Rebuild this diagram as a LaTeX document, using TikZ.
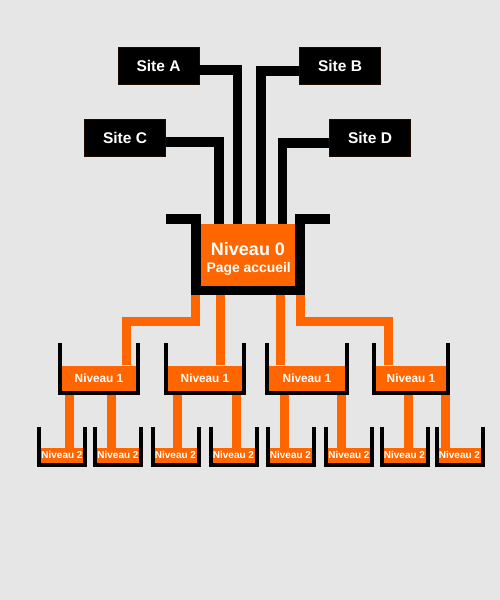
\documentclass[tikz,border=0pt]{standalone}
\usepackage{fontspec}
\setmainfont{Liberation Sans}
\usetikzlibrary{calc}
\definecolor{bg}{HTML}{E6E6E6}
\definecolor{orng}{HTML}{FF6600}
\definecolor{siteedge}{RGB}{30,12,0}
\newcommand{\bucketpath}[5]{\draw[line width=#5] (#1,#2) -- (#1,#3) -- (#4,#3) -- (#4,#2);}
\begin{document}
\begin{tikzpicture}[x=1pt,y=-1pt,
  site/.style={fill=black, draw=siteedge, line width=0.8pt, minimum width=81pt, minimum height=37pt, inner sep=0pt, text=white, font=\fontsize{15.5}{18}\selectfont\bfseries},
  lvl/.style={fill=orng, inner sep=0pt, text=white},
  lvlone/.style={lvl, minimum height=25.5pt, font=\fontsize{11.8}{14}\selectfont\bfseries},
  lvltwo/.style={lvl, minimum width=42pt, minimum height=14.7pt, font=\fontsize{10}{11}\selectfont\bfseries},
  blk/.style={line width=9.6pt, draw=black},
  org/.style={line width=9pt, draw=orng},
  lbl/.style={anchor=base, text=white, inner sep=0pt}
]
\useasboundingbox (0,0) rectangle (500,600);
\fill[bg] (0,0) rectangle (500,600);

% sites
\node[site] (sa) at (158.5,65.5) {Site A};
\node[site] (sb) at (340,65.5) {Site B};
\node[site] (sc) at (125,138) {Site C};
\node[site] (sd) at (370,138) {Site D};

% level 0
\node[lvl, minimum width=94.3pt, minimum height=61.7pt] (n0) at (247.9,254.9) {};
\node[lbl, font=\fontsize{18}{20}\selectfont\bfseries] (n0t) at (248,255) {Niveau 0};
\node[lbl, font=\fontsize{13.9}{16}\selectfont\bfseries] (n0p) at (248.7,272.3) {Page accueil};

% level 1
\node[lvlone, minimum width=74pt] (n1a) at (99,378.3) {Niveau 1};
\node[lvlone, minimum width=74pt] (n1b) at (205,378.3) {Niveau 1};
\node[lvlone, minimum width=76pt] (n1c) at (307,378.3) {Niveau 1};
\node[lvlone, minimum width=70pt] (n1d) at (411,378.3) {Niveau 1};

% level 2
\node[lvltwo] (n2a) at (62,455.35) {Niveau 2};
\node[lvltwo] (n2b) at (118,455.35) {Niveau 2};
\node[lvltwo] (n2c) at (175.5,455.35) {Niveau 2};
\node[lvltwo] (n2d) at (233.5,455.35) {Niveau 2};
\node[lvltwo] (n2e) at (290.5,455.35) {Niveau 2};
\node[lvltwo] (n2f) at (349,455.35) {Niveau 2};
\node[lvltwo] (n2g) at (404.5,455.35) {Niveau 2};
\node[lvltwo] (n2h) at (459.5,455.35) {Niveau 2};

% black connectors sites -> level 0
\draw[blk] ([yshift=-4.2pt]sa.east) -| (237.3,0 |- n0.north);
\draw[blk] ([yshift=-5.2pt]sb.west) -| (260.7,0 |- n0.north);
\draw[blk] ([yshift=-4.2pt]sc.east) -| (219,0 |- n0.north);
\draw[blk] ([yshift=-5pt]sd.west) -| (282.3,0 |- n0.north);

% orange connectors level 0 -> level 1
\draw[org] (195.5,0 |- n0.south) -- (195.5,321.2) -| (126.7,0 |- n1a.north);
\draw[org] (220.5,0 |- n0.south) -- (220.5,0 |- n1b.north);
\draw[org] (280.5,0 |- n0.south) -- (280.5,0 |- n1c.north);
\draw[org] (300.5,0 |- n0.south) -- (300.5,321.2) -| (388.7,0 |- n1d.north);

% orange connectors level 1 -> level 2
\draw[org] (69.5,0 |- n1a.south) -- (69.5,0 |- n2a.north);
\draw[org] (111.5,0 |- n1a.south) -- (111.5,0 |- n2b.north);
\draw[org] (177.5,0 |- n1b.south) -- (177.5,0 |- n2c.north);
\draw[org] (236.5,0 |- n1b.south) -- (236.5,0 |- n2d.north);
\draw[org] (284.5,0 |- n1c.south) -- (284.5,0 |- n2e.north);
\draw[org] (341.5,0 |- n1c.south) -- (341.5,0 |- n2f.north);
\draw[org] (408.5,0 |- n1d.south) -- (408.5,0 |- n2g.north);
\draw[org] (445.5,0 |- n1d.south) -- (445.5,0 |- n2h.north);

% bracket of level 0
\draw[line width=9.5pt] (166,219.2) -- (195.8,219.2) -- (195.8,290.3) -- (300,290.3) -- (300,219.2) -- (330,219.2);

% brackets of level 1
\bucketpath{60}{343}{393}{138}{4pt}
\bucketpath{166}{343}{393}{244}{4pt}
\bucketpath{267}{343}{393}{347}{4pt}
\bucketpath{374}{343}{393}{448}{4pt}

% brackets of level 2
\bucketpath{39}{426.7}{464.7}{85}{4pt}
\bucketpath{95}{426.7}{464.7}{141}{4pt}
\bucketpath{152.5}{426.7}{464.7}{198.5}{4pt}
\bucketpath{210.5}{426.7}{464.7}{256.5}{4pt}
\bucketpath{267.5}{426.7}{464.7}{313.5}{4pt}
\bucketpath{326}{426.7}{464.7}{372}{4pt}
\bucketpath{381.5}{426.7}{464.7}{427.5}{4pt}
\bucketpath{436.5}{426.7}{464.7}{482.5}{4pt}
\end{tikzpicture}
\end{document}
